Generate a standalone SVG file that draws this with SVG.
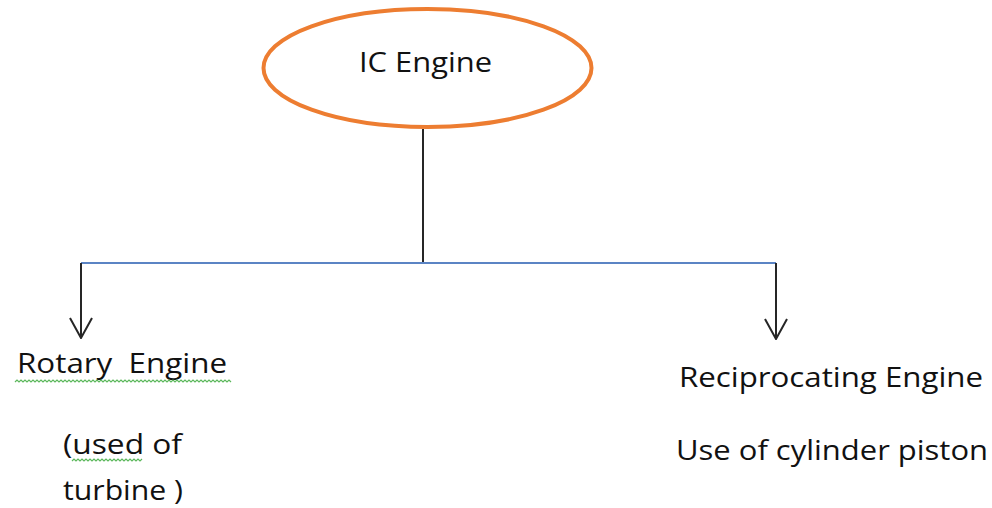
<svg xmlns="http://www.w3.org/2000/svg" width="992" height="508" viewBox="0 0 992 508">
<defs>
<style>
.t{font-family:"Open Sans","Liberation Sans",sans-serif;font-size:28px;fill:#111}
.c{fill:none;stroke:#262626;stroke-width:2}
.b{fill:none;stroke:#5b84c4;stroke-width:2}
.sq{fill:none;stroke:#5cb85c;stroke-width:1.2}
</style>
<marker id="ah" viewBox="0 0 22 24" refX="21" refY="12" markerWidth="22" markerHeight="24" markerUnits="userSpaceOnUse" orient="auto">
<path d="M1,1 L21,12 L1,23" fill="none" stroke="#262626" stroke-width="2"/>
</marker>
</defs>
<rect width="992" height="508" fill="#fff"/>
<g id="ic-engine">
<ellipse cx="427.5" cy="68" rx="164" ry="59" fill="#fff" stroke="#ED7D31" stroke-width="4"/>
<text class="t" x="359" y="72" textLength="133" lengthAdjust="spacingAndGlyphs">IC Engine</text>
</g>
<g id="connectors">
<line class="c" x1="423" y1="129" x2="423" y2="263"/>
<line class="b" x1="81" y1="263" x2="776" y2="263"/>
<line class="c" x1="81" y1="263" x2="81" y2="338" marker-end="url(#ah)"/>
<line class="c" x1="776" y1="263" x2="776" y2="339" marker-end="url(#ah)"/>
</g>
<g id="rotary-engine">
<text class="t" x="17" y="373" xml:space="preserve" textLength="210" lengthAdjust="spacingAndGlyphs">Rotary  Engine</text>
<path class="sq" d="M15,382 l2,-2 l2,2 l2,-2 l2,2 l2,-2 l2,2 l2,-2 l2,2 l2,-2 l2,2 l2,-2 l2,2 l2,-2 l2,2 l2,-2 l2,2 l2,-2 l2,2 l2,-2 l2,2 l2,-2 l2,2 l2,-2 l2,2 l2,-2 l2,2 l2,-2 l2,2 l2,-2 l2,2 l2,-2 l2,2 l2,-2 l2,2 l2,-2 l2,2 l2,-2 l2,2 l2,-2 l2,2 l2,-2 l2,2 l2,-2 l2,2 l2,-2 l2,2 l2,-2 l2,2 l2,-2 l2,2 l2,-2 l2,2 l2,-2 l2,2 l2,-2 l2,2 l2,-2 l2,2 l2,-2 l2,2 l2,-2 l2,2 l2,-2 l2,2 l2,-2 l2,2 l2,-2 l2,2 l2,-2 l2,2 l2,-2 l2,2 l2,-2 l2,2 l2,-2 l2,2 l2,-2 l2,2 l2,-2 l2,2 l2,-2 l2,2 l2,-2 l2,2 l2,-2 l2,2 l2,-2 l2,2 l2,-2 l2,2 l2,-2 l2,2 l2,-2 l2,2 l2,-2 l2,2 l2,-2 l2,2 l2,-2 l2,2 l2,-2 l2,2 l2,-2 l2,2 l2,-2 l2,2 l2,-2 l2,2"/>
<text class="t" x="63" y="454" textLength="119" lengthAdjust="spacingAndGlyphs">(used of</text>
<path class="sq" d="M72,461 l2,-2 l2,2 l2,-2 l2,2 l2,-2 l2,2 l2,-2 l2,2 l2,-2 l2,2 l2,-2 l2,2 l2,-2 l2,2 l2,-2 l2,2 l2,-2 l2,2 l2,-2 l2,2 l2,-2 l2,2 l2,-2 l2,2 l2,-2 l2,2 l2,-2 l2,2 l2,-2 l2,2 l2,-2 l2,2 l2,-2 l2,2 l2,-2"/>
<text class="t" x="63" y="500" textLength="120" lengthAdjust="spacingAndGlyphs">turbine )</text>
</g>
<g id="reciprocating-engine">
<text class="t" x="679" y="387" textLength="304" lengthAdjust="spacingAndGlyphs">Reciprocating Engine</text>
<text class="t" x="676" y="460" textLength="312" lengthAdjust="spacingAndGlyphs">Use of cylinder piston</text>
</g>
</svg>
